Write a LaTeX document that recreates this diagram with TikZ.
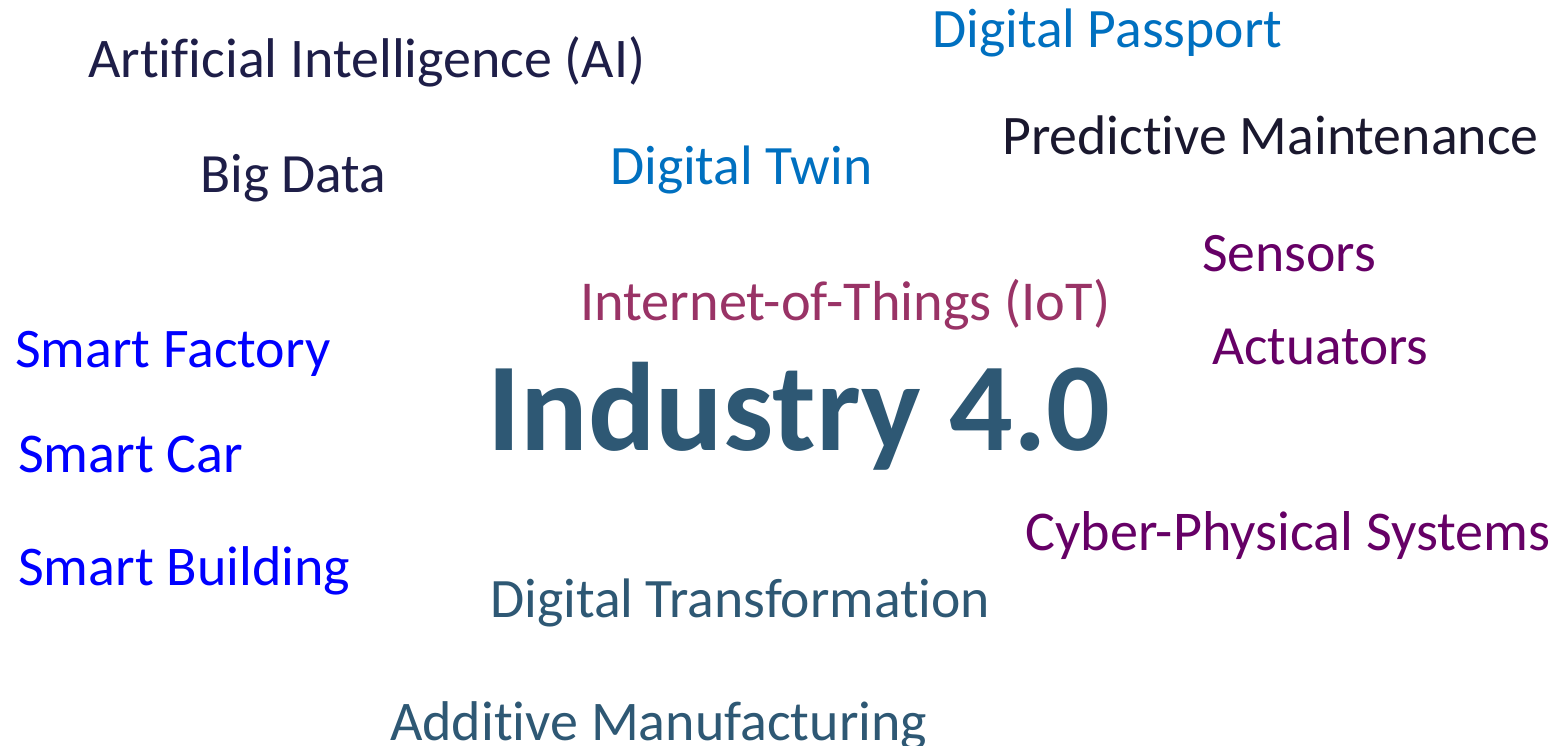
\documentclass[tikz,border=0pt]{standalone}
\usepackage{fontspec}
\setmainfont{Carlito}[Ligatures={NoCommon,NoContextual}]
\usepackage{graphicx}
\definecolor{navy}{RGB}{30,30,72}
\definecolor{nearblack}{RGB}{26,24,46}
\definecolor{dblue}{RGB}{0,112,192}
\definecolor{purp}{RGB}{102,0,102}
\definecolor{plum}{RGB}{153,51,102}
\definecolor{pure}{RGB}{0,0,255}
\definecolor{slate}{RGB}{46,88,116}
\tikzset{word/.style={inner sep=0pt, anchor=base west}}
\newcommand{\fitw}[2]{\resizebox{#1pt}{!}{#2}}
\begin{document}
\begin{tikzpicture}[x=1pt,y=-1pt]
\useasboundingbox (0,0) rectangle (1556,746);
\clip (0,0) rectangle (1556,746);
\fill[white] (0,0) rectangle (1556,746);
\node[word, text=navy] (ai) at (88,78) {\fitw{557}{Artificial Intelligence (AI)}};
\node[word, text=dblue] (dp) at (932,48) {\fitw{350}{Digital Passport}};
\node[word, text=nearblack] (pm) at (1002,155) {\fitw{536}{Predictive Maintenance}};
\node[word, text=navy] (bd) at (200,193) {\fitw{186}{Big Data}};
\node[word, text=dblue] (dt) at (610,185) {\fitw{262}{Digital Twin}};
\node[word, text=purp] (se) at (1202,272) {\fitw{174}{Sensors}};
\node[word, text=plum] (iot) at (580,320) {\fitw{530}{Internet-of-Things (IoT)}};
\node[word, text=pure] (sf) at (15,367) {\fitw{315}{Smart Factory}};
\node[word, text=purp] (ac) at (1212,364) {\fitw{216}{Actuators}};
\node[word, text=slate] (ind) at (487,450) {\fitw{623}{\bfseries Industry 4.0}};
\node[word, text=pure] (sc) at (18,472) {\fitw{225}{Smart Car}};
\node[word, text=purp] (cps) at (1025,550) {\fitw{525}{Cyber-Physical Systems}};
\node[word, text=pure] (sb) at (18,585) {\fitw{332}{Smart Building}};
\node[word, text=slate] (dtr) at (490,617) {\fitw{500}{Digital Transformation}};
\node[word, text=slate] (am) at (390,740) {\fitw{537}{Additive Manufacturing}};
\end{tikzpicture}
\end{document}
